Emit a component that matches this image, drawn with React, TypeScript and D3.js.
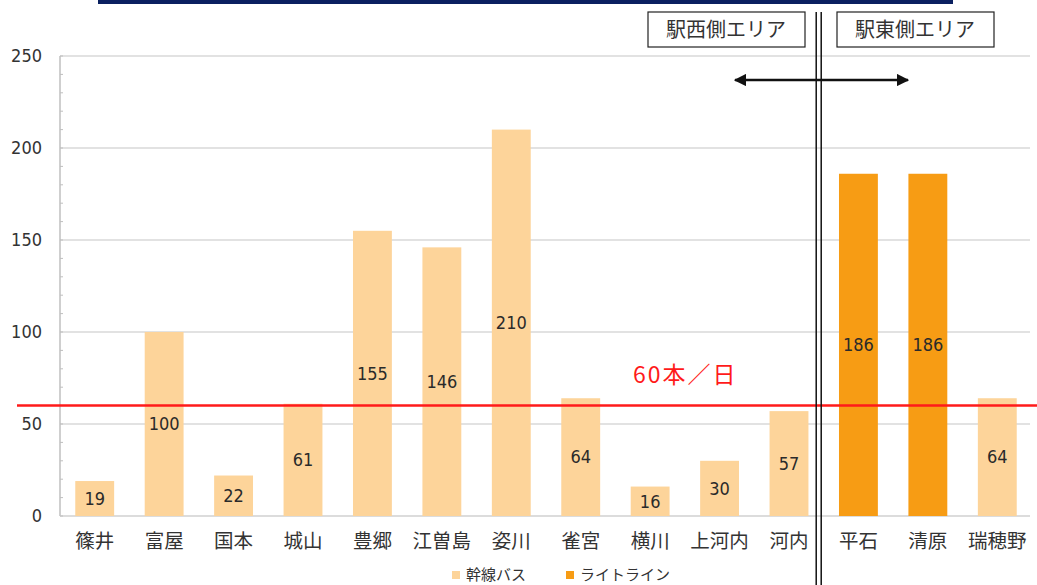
import React, { useEffect, useRef } from 'react';
import * as d3 from 'd3';

const stations = ['篠井', '富屋', '国本', '城山', '豊郷', '江曽島', '姿川', '雀宮', '横川', '上河内', '河内', '平石', '清原', '瑞穂野'];
const trips = [19, 100, 22, 61, 155, 146, 210, 64, 16, 30, 57, 186, 186, 64];
const modes = ['bus', 'bus', 'bus', 'bus', 'bus', 'bus', 'bus', 'bus', 'bus', 'bus', 'bus', 'lrt', 'lrt', 'bus'];
const yTicks = [0, 50, 100, 150, 200, 250];
const legendNames = ['幹線バス', 'ライトライン'];
const threshold = 60;

const App: React.FC = () => {
  const svgRef = useRef<SVGSVGElement>(null);
  useEffect(() => {
    const W = 1037, H = 585;
    const left = 60, right = 1032, top = 56, bottom = 516;
    const jp = '"Noto Sans CJK JP", sans-serif';
    const num = '"DejaVu Sans Condensed", "Liberation Sans Narrow", sans-serif';

    const svg = d3.select(svgRef.current)
      .attr('width', W)
      .attr('height', H);
    svg.selectAll('*').remove();

    const x = d3.scaleBand().domain(stations).range([left, right]).paddingInner(0.44).paddingOuter(0.22);
    const y = d3.scaleLinear().domain([0, 250]).range([bottom, top]);
    const color = (m: string) => (m === 'lrt' ? '#F79C14' : '#FDD49A');

    // top navy band
    svg.append('rect').attr('x', 98).attr('y', 0).attr('width', 855).attr('height', 4).attr('fill', '#0A2060');

    // gridlines
    svg.append('g').selectAll('line').data(yTicks.filter(d => d > 0)).enter().append('line')
      .attr('x1', left).attr('x2', 1030)
      .attr('y1', d => y(d)).attr('y2', d => y(d))
      .attr('stroke', '#d9d9d9').attr('stroke-width', 1.5);

    // y axis line + minor ticks
    svg.append('line').attr('x1', left).attr('x2', left).attr('y1', top).attr('y2', bottom)
      .attr('stroke', '#bfbfbf').attr('stroke-width', 1.5);
    svg.append('line').attr('x1', left).attr('x2', 1030).attr('y1', bottom).attr('y2', bottom)
      .attr('stroke', '#d0d0d0').attr('stroke-width', 1.5);
    svg.append('g').selectAll('line').data(d3.range(0, 251, 10)).enter().append('line')
      .attr('x1', left).attr('x2', left + 3)
      .attr('y1', d => y(d)).attr('y2', d => y(d))
      .attr('stroke', '#bfbfbf').attr('stroke-width', 1);

    svg.append('g').selectAll('text').data(yTicks).enter().append('text')
      .attr('x', 42).attr('y', d => y(d)).attr('dy', '0.35em')
      .attr('text-anchor', 'end').attr('font-family', num).attr('font-size', 18).attr('fill', '#333')
      .text(d => d);

    // bars
    const data = stations.map((s, i) => ({ s, v: trips[i], m: modes[i] }));
    svg.append('g').selectAll('rect').data(data).enter().append('rect')
      .attr('x', d => x(d.s)!)
      .attr('y', d => y(d.v))
      .attr('width', x.bandwidth())
      .attr('height', d => y(0) - y(d.v))
      .attr('fill', d => color(d.m));

    svg.append('g').selectAll('text').data(data).enter().append('text')
      .attr('x', d => x(d.s)! + x.bandwidth() / 2)
      .attr('y', d => (y(d.v) + y(0)) / 2).attr('dy', '0.35em')
      .attr('text-anchor', 'middle').attr('font-family', num).attr('font-size', 18).attr('fill', '#2a2a2a')
      .text(d => d.v);

    // category labels
    svg.append('g').selectAll('text').data(stations).enter().append('text')
      .attr('x', d => x(d)! + x.bandwidth() / 2)
      .attr('y', 541).attr('dy', '0.35em')
      .attr('text-anchor', 'middle').attr('font-family', jp).attr('font-size', 19.5).attr('fill', '#333')
      .text(d => d);

    // threshold line
    svg.append('line').attr('x1', 17).attr('x2', W).attr('y1', y(threshold)).attr('y2', y(threshold))
      .attr('stroke', '#FF1A1A').attr('stroke-width', 2.5);
    svg.append('text').attr('x', 633).attr('y', 375).attr('dy', '0.35em')
      .attr('font-family', jp).attr('font-size', 23).attr('letter-spacing', 2).attr('fill', '#FF1A1A')
      .text(`${threshold}本／日`);

    // divider double line
    const divX = (x('河内')! + x.bandwidth() + x('平石')!) / 2 - 5;
    [divX - 2.5, divX + 2.5].forEach(xx => {
      svg.append('line').attr('x1', xx).attr('x2', xx).attr('y1', 12).attr('y2', H)
        .attr('stroke', '#111').attr('stroke-width', 1.5);
    });

    // area boxes
    const boxes = [
      { x0: 648, label: '駅西側エリア' },
      { x0: 837, label: '駅東側エリア' },
    ];
    boxes.forEach(b => {
      svg.append('rect').attr('x', b.x0).attr('y', 12).attr('width', 157).attr('height', 35)
        .attr('fill', '#fff').attr('stroke', '#222').attr('stroke-width', 1.2);
      svg.append('text').attr('x', b.x0 + 78).attr('y', 30).attr('dy', '0.35em')
        .attr('text-anchor', 'middle').attr('font-family', jp).attr('font-size', 20).attr('fill', '#333')
        .text(b.label);
    });

    // double arrow
    const defs = svg.append('defs');
    defs.append('marker').attr('id', 'ah').attr('viewBox', '0 0 10 10').attr('refX', 9).attr('refY', 5)
      .attr('markerWidth', 5).attr('markerHeight', 5).attr('orient', 'auto-start-reverse')
      .append('path').attr('d', 'M0,0L10,5L0,10Z').attr('fill', '#111');
    svg.append('line').attr('x1', 735).attr('x2', 908).attr('y1', 80).attr('y2', 80)
      .attr('stroke', '#111').attr('stroke-width', 2.5)
      .attr('marker-start', 'url(#ah)').attr('marker-end', 'url(#ah)');

    // legend
    const legend = [
      { name: legendNames[0], c: color('bus'), x0: 452 },
      { name: legendNames[1], c: color('lrt'), x0: 566 },
    ];
    legend.forEach(l => {
      svg.append('rect').attr('x', l.x0).attr('y', 571).attr('width', 8).attr('height', 8).attr('fill', l.c);
      svg.append('text').attr('x', l.x0 + 14).attr('y', 575).attr('dy', '0.35em')
        .attr('font-family', jp).attr('font-size', 15).attr('fill', '#333').text(l.name);
    });
  }, []);

  return (
    <div style={{ position: 'absolute', left: 0, top: 0 }}>
      <svg ref={svgRef}></svg>
    </div>
  );
};

export default App;
